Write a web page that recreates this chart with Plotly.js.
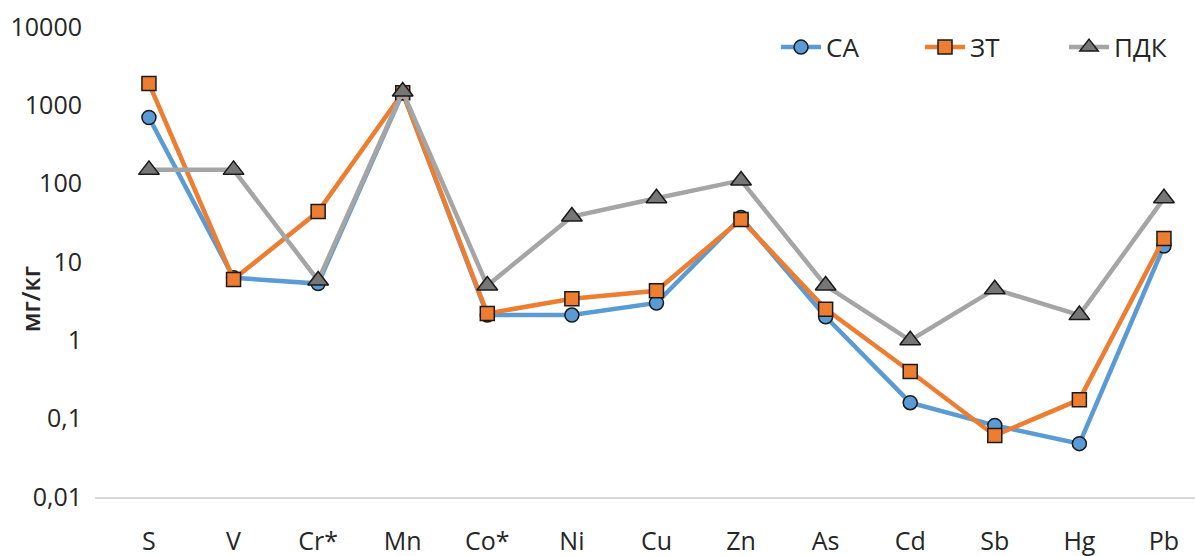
<!DOCTYPE html>
<html>
<head>
<meta charset="utf-8">
<script src="https://cdn.plot.ly/plotly-3.0.1.min.js"></script>
<style>
  html, body { margin: 0; padding: 0; background: #fff; }
  #chart { width: 1195px; height: 556px; }
</style>
</head>
<body>
<div id="chart"></div>
<script>
// Element content, mg/kg (log scale)
const elements = ['S', 'V', 'Cr*', 'Mn', 'Co*', 'Ni', 'Cu', 'Zn', 'As', 'Cd', 'Sb', 'Hg', 'Pb'];
const seriesCA  = [700, 6.3, 5.3, 1450, 2.1, 2.1, 3.0, 37, 2.0, 0.16, 0.082, 0.048, 16];
const seriesZT  = [1900, 6.0, 44, 1450, 2.2, 3.4, 4.3, 35, 2.5, 0.40, 0.061, 0.175, 20];
const seriesPDK = [150, 150, 5.8, 1500, 5.0, 38, 65, 110, 5.0, 1.0, 4.5, 2.1, 65];

const yTickVals = [0.01, 0.1, 1, 10, 100, 1000, 10000];
const yTickText = ['0,01', '0,1', '1', '10', '100', '1000', '10000'];

const FONT = '"Open Sans", "Noto Sans", sans-serif';
const TEXT = '#262626';

function series(name, values, lineColor, symbol, fill, size) {
  return {
    type: 'scatter',
    mode: 'lines+markers',
    name: name,
    x: elements,
    y: values,
    line: { color: lineColor, width: 4.5 },
    marker: { symbol: symbol, size: size, color: fill, line: { color: '#1a1a1a', width: 1.5 } }
  };
}

const data = [
  series('СА', seriesCA, '#5B9BD5', 'circle', '#5B9BD5', 14),
  series('ЗТ', seriesZT, '#ED7D31', 'square', '#ED7D31', 14),
  series('ПДК', seriesPDK, '#A5A5A5', 'triangle-up', '#767676', 18)
];

const layout = {
  width: 1195,
  height: 556,
  margin: { l: 95, r: 0, t: 27, b: 59, autoexpand: false },
  paper_bgcolor: '#ffffff',
  plot_bgcolor: '#ffffff',
  font: { family: FONT, size: 25, color: TEXT },
  showlegend: true,
  legend: {
    orientation: 'h',
    x: 0.6191, xanchor: 'left',
    y: 0.957, yanchor: 'middle',
    entrywidth: 89, entrywidthmode: 'pixels',
    font: { family: FONT, size: 26, color: TEXT },
    bgcolor: 'rgba(0,0,0,0)',
    itemwidth: 40
  },
  xaxis: {
    type: 'category',
    range: [-0.638, 12.367],
    showgrid: false,
    zeroline: false,
    showline: true,
    linecolor: '#d9d9d9',
    linewidth: 1.5,
    ticks: '',
    ticklabelstandoff: 21,
    tickfont: { family: FONT, size: 25, color: TEXT },
    fixedrange: true
  },
  yaxis: {
    type: 'log',
    range: [-2, 4],
    tickvals: yTickVals,
    ticktext: yTickText,
    showgrid: false,
    zeroline: false,
    showline: false,
    ticks: '',
    ticklabelstandoff: 12,
    tickfont: { family: FONT, size: 25, color: TEXT },
    fixedrange: true
  },
  annotations: [{
    text: 'мг/кг',
    xref: 'paper', yref: 'paper',
    x: -0.059, y: 0.421,
    xanchor: 'center', yanchor: 'middle',
    textangle: -90,
    showarrow: false,
    font: { family: FONT, size: 25, color: TEXT, weight: 600 }
  }]
};

Plotly.newPlot('chart', data, layout, { displayModeBar: false, staticPlot: true });
</script>
</body>
</html>
